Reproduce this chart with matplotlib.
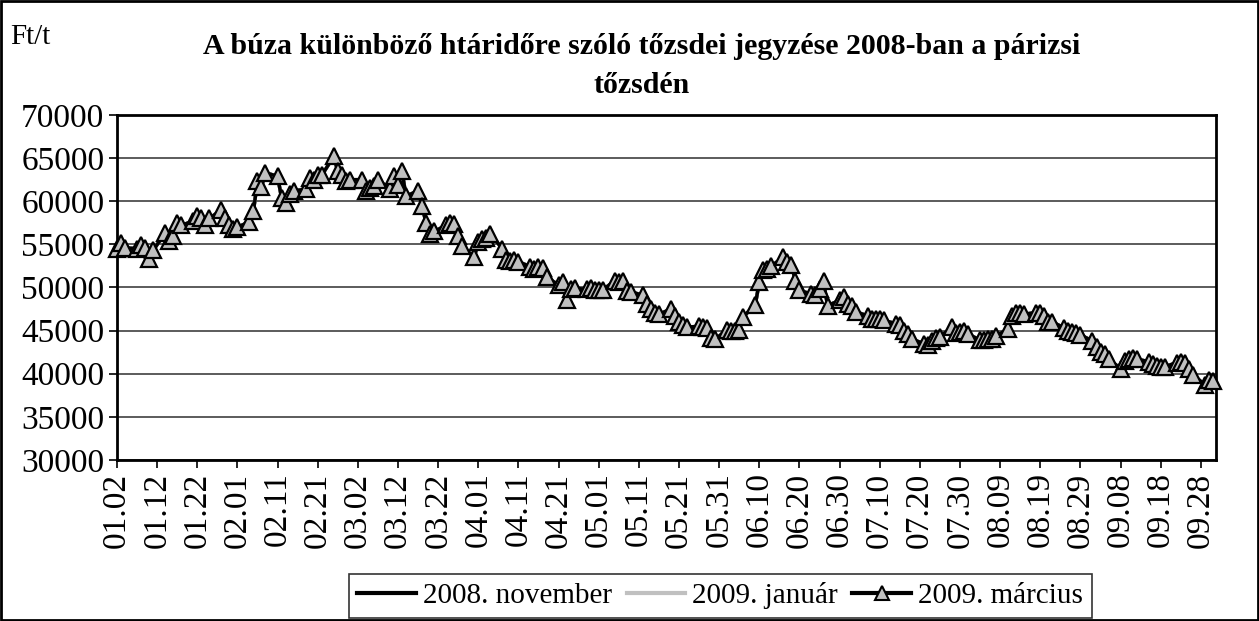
import numpy as np
import pandas as pd
import matplotlib
matplotlib.use("Agg")
import matplotlib.pyplot as plt
import matplotlib.dates as mdates
from matplotlib.patches import Rectangle
from matplotlib.lines import Line2D

plt.rcParams['font.family'] = ['Liberation Serif', 'DejaVu Serif']

# Quotes (Ft/t), one value per trading day, month by month.
# The three contracts overlap almost exactly in the picture.
jan = [54500, 55200, 54600, 54500, 54900, 54600, 53300, 54300, 56300, 55400,
       56000, 57500, 57200, 57700, 58300, 58000, 57200, 58000, 59000, 58000,
       57200, 56800]
feb = [57000, 57600, 58900, 62300, 61700, 63300, 62900, 60400, 59800, 60800,
       61200, 61400, 62700, 62500, 63100, 63000, 65200, 63500, 63000, 62300,
       62500]
mar = [62500, 61200, 61500, 61800, 62500, 61400, 62900, 61900, 63500, 60600,
       61200, 59400, 57500, 56200, 56500, 57200, 57500, 57400, 56000, 54800,
       53500]
apr = [55300, 55600, 55700, 56200, 54500, 53200, 53100, 53200, 53000, 52400,
       52200, 52400, 52300, 51200, 50300, 50600, 48500, 49800, 49900, 49800,
       49900, 49700]
may = [49700, 49700, 50800, 50600, 50800, 49600, 49500, 49100, 48100, 47500,
       47000, 46900, 47500, 46700, 46000, 45700, 45400, 45500, 45400, 45300,
       44200, 44000]
jun = [45100, 45000, 44900, 45100, 46600, 48000, 50600, 52000, 52200, 52500,
       53500, 53000, 52600, 50800, 49700, 49200, 49100, 49800, 50700, 47900,
       48500]
jul = [48900, 48100, 47900, 47200, 46700, 46400, 46300, 46300, 46200, 45800,
       45600, 45000, 44600, 44000, 43500, 43300, 43800, 44200, 44300, 45400,
       44700, 44800, 45000]
aug = [44600, 43900, 43900, 44000, 44000, 44400, 45200, 46700, 47000, 47000,
       46900, 47100, 47000, 46700, 46000, 46000, 45300, 45000, 44800, 44700,
       44500]
sep = [43800, 43100, 42500, 42300, 41700, 40600, 41500, 41700, 41800, 41700,
       41400, 41100, 40900, 40800, 40800, 41300, 41400, 41200, 40500, 39900,
       38700, 39300]
octo = [39100]

marc_2009 = jan + feb + mar + apr + may + jun + jul + aug + sep + octo
jan_2009 = list(marc_2009)
nov_2008 = list(marc_2009)

dates = pd.bdate_range('2008-01-02', '2008-10-01')
assert len(dates) == len(marc_2009)

labels = ['2008. november', '2009. január', '2009. március']
tick_dates = pd.date_range('2008-01-02', '2008-09-28', freq='10D')

fig = plt.figure(figsize=(12.59, 6.21), dpi=100)
ax = fig.add_axes([0.0929, 0.2593, 0.8729, 0.5555])

ax.plot(dates, nov_2008, color='black', lw=2.5, zorder=3)
ax.plot(dates, jan_2009, color='#C0C0C0', lw=2.5, zorder=3)
ax.plot(dates, marc_2009, color='black', lw=2.5, marker='^', markersize=11,
        markerfacecolor='#C0C0C0', markeredgecolor='black', markeredgewidth=1.6,
        zorder=4, clip_on=False)

ax.set_ylim(30000, 70000)
ax.set_yticks(np.arange(30000, 70001, 5000))
ax.set_xlim(pd.Timestamp('2008-01-02'), pd.Timestamp('2008-10-01 18:00'))
ax.set_xticks(tick_dates)
ax.xaxis.set_major_formatter(mdates.DateFormatter('%m.%d'))
ax.tick_params(axis='x', labelrotation=90, labelsize=24, length=6, width=1.2, pad=3)
ax.tick_params(axis='y', labelsize=24, length=6, width=1.2, pad=3)
ax.yaxis.grid(True, color='#404040', lw=1.2)
ax.set_axisbelow(True)
for s in ax.spines.values():
    s.set_linewidth(2)

fig.text(0.008, 0.94, 'Ft/t', fontsize=21, va='center', ha='left')
fig.text(0.51, 0.925, 'A búza különböző htáridőre szóló tőzsdei jegyzése 2008-ban a párizsi',
         fontsize=21.5, fontweight='bold', ha='center', va='center')
fig.text(0.51, 0.862, 'tőzsdén', fontsize=21.5, fontweight='bold', ha='center', va='center')

handles = [
    Line2D([], [], color='black', lw=3),
    Line2D([], [], color='#C0C0C0', lw=3),
    Line2D([], [], color='black', lw=3, marker='^', markersize=10,
           markerfacecolor='#C0C0C0', markeredgecolor='black', markeredgewidth=1.5),
]
leg = fig.legend(handles, labels, loc='lower center', bbox_to_anchor=(0.572, 0.0),
                 ncol=3, fontsize=21, frameon=True, fancybox=False,
                 handlelength=2.0, handletextpad=0.25, columnspacing=0.5,
                 borderpad=0.3, borderaxespad=0.1)
leg.get_frame().set_edgecolor('black')
leg.get_frame().set_linewidth(1.2)

fig.patches.append(Rectangle((0.001, 0.001), 0.998, 0.998, fill=False, lw=2,
                             edgecolor='black', transform=fig.transFigure))

fig.savefig('out.png', dpi=100)
